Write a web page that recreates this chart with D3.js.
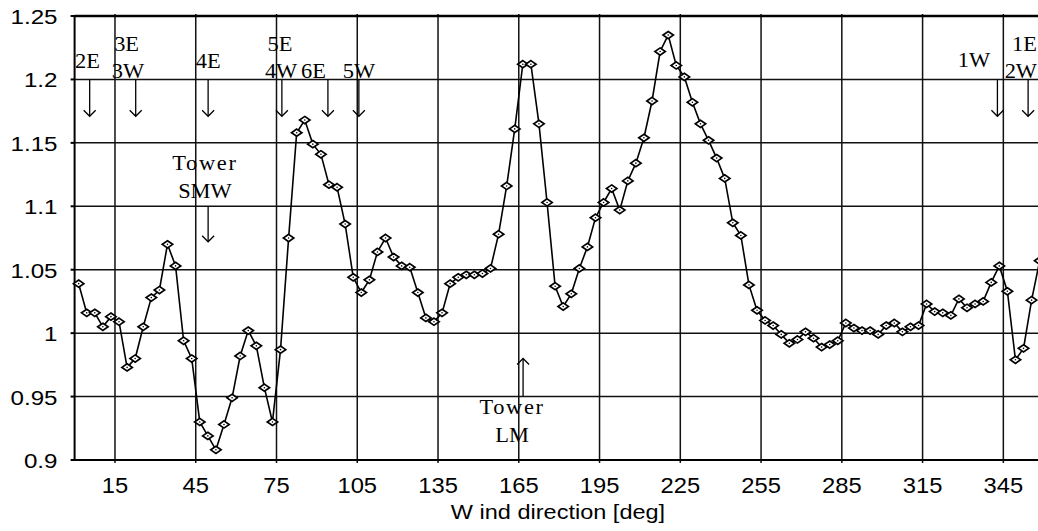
<!DOCTYPE html>
<html>
<head>
<meta charset="utf-8">
<script src="https://cdn.jsdelivr.net/npm/d3@7"></script>
<style>
    html, body { margin: 0; padding: 0; background: #fff; }
    svg { display: block; }
</style>
</head>
<body>
<div id="chart"></div>
<script>
// wind direction bins [deg]
const directions = [
    1.5, 4.5, 7.5, 10.5, 13.5, 16.5, 19.5, 22.5, 25.5, 28.5,
    31.5, 34.5, 37.5, 40.5, 43.5, 46.5, 49.5, 52.5, 55.5, 58.5,
    61.5, 64.5, 67.5, 70.5, 73.5, 76.5, 79.5, 82.5, 85.5, 88.5,
    91.5, 94.5, 97.5, 100.5, 103.5, 106.5, 109.5, 112.5, 115.5, 118.5,
    121.5, 124.5, 127.5, 130.5, 133.5, 136.5, 139.5, 142.5, 145.5, 148.5,
    151.5, 154.5, 157.5, 160.5, 163.5, 166.5, 169.5, 172.5, 175.5, 178.5,
    181.5, 184.5, 187.5, 190.5, 193.5, 196.5, 199.5, 202.5, 205.5, 208.5,
    211.5, 214.5, 217.5, 220.5, 223.5, 226.5, 229.5, 232.5, 235.5, 238.5,
    241.5, 244.5, 247.5, 250.5, 253.5, 256.5, 259.5, 262.5, 265.5, 268.5,
    271.5, 274.5, 277.5, 280.5, 283.5, 286.5, 289.5, 292.5, 295.5, 298.5,
    301.5, 304.5, 307.5, 310.5, 313.5, 316.5, 319.5, 322.5, 325.5, 328.5,
    331.5, 334.5, 337.5, 340.5, 343.5, 346.5, 349.5, 352.5, 355.5, 358.5
];

const ratios = [
    1.039, 1.016, 1.016, 1.005, 1.013, 1.009, 0.973, 0.980, 1.005, 1.028,
    1.034, 1.070, 1.053, 0.994, 0.980, 0.930, 0.919, 0.908, 0.928, 0.949,
    0.982, 1.002, 0.990, 0.957, 0.930, 0.987, 1.075, 1.158, 1.168, 1.149,
    1.141, 1.117, 1.115, 1.086, 1.044, 1.032, 1.042, 1.064, 1.075, 1.060,
    1.053, 1.052, 1.032, 1.012, 1.009, 1.016, 1.039, 1.044, 1.046, 1.046,
    1.047, 1.051, 1.078, 1.116, 1.161, 1.212, 1.212, 1.165, 1.103, 1.037,
    1.021, 1.031, 1.051, 1.068, 1.091, 1.103, 1.114, 1.097, 1.120, 1.134,
    1.154, 1.183, 1.222, 1.235, 1.211, 1.202, 1.182, 1.165, 1.152, 1.138,
    1.122, 1.087, 1.077, 1.038, 1.018, 1.010, 1.006, 0.999, 0.992, 0.995,
    1.001, 0.996, 0.989, 0.991, 0.994, 1.008, 1.004, 1.002, 1.002, 0.999,
    1.006, 1.008, 1.001, 1.005, 1.006, 1.023, 1.017, 1.016, 1.014, 1.027,
    1.020, 1.023, 1.025, 1.040, 1.053, 1.033, 0.979, 0.988, 1.026, 1.057
];

const xTicks = [15, 45, 75, 105, 135, 165, 195, 225, 255, 285, 315, 345];
const yTicks = [0.9, 0.95, 1, 1.05, 1.1, 1.15, 1.2, 1.25];
const yTickLabels = ["0.9", "0.95", "1", "1.05", "1.1", "1.15", "1.2", "1.25"];

// turbine / tower directions, arrow drawn from value "from" to value "to"
const arrowDirs = [5.6, 22.7, 49.6, 77.0, 94.1, 105.6, 342.8, 354.2, 49.6, 166.6];
const arrowFrom = [1.2, 1.2, 1.2, 1.2, 1.2, 1.2, 1.2, 1.2, 1.1, 0.9504];
const arrowTo = [1.171, 1.171, 1.171, 1.171, 1.171, 1.171, 1.171, 1.171, 1.072, 0.980];

const noteTexts = ["2E", "3E", "3W", "4E", "5E", "4W", "6E", "5W", "1W", "1E", "2W", "Tower", "SMW", "Tower", "LM"];
const noteDirs = [4.8, 19.3, 19.8, 49.6, 76.3, 76.7, 88.7, 105.6, 334.1, 357.5, 357.5, 48.4, 48.4, 162.5, 162.5];
const noteValues = [1.2087, 1.2228, 1.2008, 1.2087, 1.2228, 1.2008, 1.2008, 1.2008, 1.2095, 1.2228, 1.2008, 1.1283, 1.1063, 0.9362, 0.9142];
const noteAnchors = ["middle", "middle", "middle", "middle", "middle", "middle", "middle", "middle", "middle", "end", "end", "middle", "middle", "middle", "middle"];

const width = 1038, height = 531;
const sansFont = "'Liberation Sans', Arial, sans-serif";
const serifFont = "'Liberation Serif', 'Times New Roman', serif";

const x = d3.scaleLinear().domain([0, 360]).range([74.6, 74.6 + 360 * 2.692]);
const y = d3.scaleLinear().domain([0.9, 1.25]).range([460, 16]);

const svg = d3.select("#chart").append("svg")
    .attr("width", width).attr("height", height)
    .style("background", "#fff");

svg.append("rect").attr("width", width).attr("height", height).attr("fill", "#fff");

// text that is a bit wider than the font, like the original export
const wideText = (g, px, py, str, size, family, sx, anchor, spacing) => {
    g.append("text")
        .attr("transform", "translate(" + px + "," + py + ") scale(" + sx + ",1)")
        .attr("text-anchor", anchor)
        .attr("font-family", family)
        .attr("font-size", size)
        .attr("letter-spacing", spacing || 0)
        .attr("fill", "#000")
        .text(str);
};

// grid
const grid = svg.append("g");
grid.selectAll(".hgrid").data(yTicks).enter().append("line")
    .attr("class", "hgrid")
    .attr("x1", x(0)).attr("x2", x(360))
    .attr("y1", d => y(d)).attr("y2", d => y(d))
    .attr("stroke", "#111").attr("stroke-width", 1.5);
grid.selectAll(".vgrid").data(xTicks).enter().append("line")
    .attr("class", "vgrid")
    .attr("x1", d => x(d)).attr("x2", d => x(d))
    .attr("y1", y(1.25) - 2).attr("y2", y(0.9) + 3)
    .attr("stroke", "#111").attr("stroke-width", 1.5);

// frame
svg.append("line").attr("x1", x(0)).attr("x2", x(360)).attr("y1", y(1.25)).attr("y2", y(1.25))
    .attr("stroke", "#000").attr("stroke-width", 2.4);
svg.append("line").attr("x1", x(0)).attr("x2", x(360)).attr("y1", y(0.9)).attr("y2", y(0.9))
    .attr("stroke", "#000").attr("stroke-width", 2);
svg.append("line").attr("x1", x(0)).attr("x2", x(0)).attr("y1", y(1.25) - 1).attr("y2", y(0.9) + 1)
    .attr("stroke", "#000").attr("stroke-width", 2);
svg.selectAll(".ytick").data(yTicks).enter().append("line")
    .attr("class", "ytick")
    .attr("x1", x(0) - 4).attr("x2", x(0))
    .attr("y1", d => y(d)).attr("y2", d => y(d))
    .attr("stroke", "#000").attr("stroke-width", 2);

// tick labels
const labels = svg.append("g");
yTicks.forEach((v, i) => wideText(labels, 57.5, y(v) + 8, yTickLabels[i], 21, sansFont, 1.15, "end"));
xTicks.forEach(v => wideText(labels, x(v), 493, String(v), 22, sansFont, 1.08, "middle"));
wideText(labels, 558, 519, "W ind direction [deg]", 21, sansFont, 1.12, "middle");

// annotations
const notes = svg.append("g");
noteTexts.forEach((t, i) => wideText(notes, x(noteDirs[i]), y(noteValues[i]), t, 20, serifFont, 1.12,
    noteAnchors[i], t === "Tower" ? 1.5 : 0));

const arrows = svg.append("g").attr("fill", "none").attr("stroke", "#000").attr("stroke-width", 1.3);
arrowDirs.forEach((d, i) => {
    const ax = x(d), y0 = y(arrowFrom[i]), y1 = y(arrowTo[i]);
    const dir = y1 > y0 ? 1 : -1;
    arrows.append("line").attr("x1", ax).attr("x2", ax).attr("y1", y0).attr("y2", y1);
    arrows.append("path")
        .attr("d", "M" + (ax - 6) + "," + (y1 - dir * 6) + "L" + ax + "," + y1 + "L" + (ax + 6) + "," + (y1 - dir * 6));
});

// series
const points = directions.map((d, i) => [d, ratios[i]]);
const line = d3.line().x(p => x(p[0])).y(p => y(p[1]));

svg.append("path")
    .datum(points)
    .attr("d", line)
    .attr("fill", "none")
    .attr("stroke", "#000")
    .attr("stroke-width", 1.6);

const markers = svg.append("g");
markers.selectAll("path").data(points).enter().append("path")
    .attr("transform", p => "translate(" + x(p[0]) + "," + y(p[1]) + ")")
    .attr("d", "M0,-3.6L5.2,0L0,3.6L-5.2,0Z")
    .attr("fill", "#fff")
    .attr("stroke", "#000")
    .attr("stroke-width", 1.7);
markers.selectAll("circle").data(points).enter().append("circle")
    .attr("cx", p => x(p[0])).attr("cy", p => y(p[1]))
    .attr("r", 0.8).attr("fill", "#000");
</script>
</body>
</html>
